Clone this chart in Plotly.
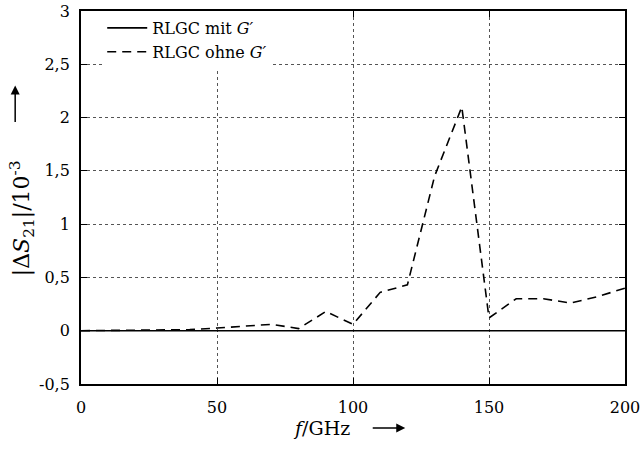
import plotly.graph_objects as go

freq = [0, 10, 20, 30, 40, 50, 60, 70, 80, 90, 100, 110, 120, 130, 140, 150, 160, 170, 180, 190, 200]
mit_g = [0.0] * len(freq)
ohne_g = [0.0, 0.003, 0.005, 0.007, 0.01, 0.025, 0.04, 0.06, 0.02, 0.18, 0.06, 0.36, 0.43, 1.45, 2.1, 0.12, 0.30, 0.30, 0.26, 0.32, 0.40]
y_ticks = [-0.5, 0, 0.5, 1, 1.5, 2, 2.5, 3]
y_ticklabels = ["-0,5", "0", "0,5", "1", "1,5", "2", "2,5", "3"]
x_ticks = [0, 50, 100, 150, 200]

FONT = "DejaVu Serif"

fig = go.Figure()
fig.add_trace(go.Scatter(x=freq, y=mit_g, mode="lines", name="RLGC mit <i>G′</i>",
                         line=dict(color="black", width=1.6)))
fig.add_trace(go.Scatter(x=freq, y=ohne_g, mode="lines", name="RLGC ohne <i>G′</i>",
                         line=dict(color="black", width=1.6, dash="9px,6px")))

axis_common = dict(showline=True, linecolor="black", linewidth=1.8, mirror="ticks",
                   ticks="inside", ticklen=6, tickcolor="black", tickwidth=1,
                   showgrid=True, gridcolor="#555", griddash="dot", gridwidth=1,
                   zeroline=False, automargin=False,
                   tickfont=dict(family=FONT, size=16, color="black"))

fig.update_xaxes(range=[0, 200], tickvals=x_ticks, ticklabelstandoff=8, **axis_common)
fig.update_yaxes(range=[-0.5, 3], tickvals=y_ticks, ticktext=y_ticklabels, ticklabelstandoff=6, **axis_common)

fig.update_layout(
    width=644, height=452,
    margin=dict(l=81, r=19, t=11, b=68),
    plot_bgcolor="white", paper_bgcolor="white",
    font=dict(family=FONT, size=16, color="black"),
    showlegend=True,
    legend=dict(x=0.039, y=1.0, xanchor="left", yanchor="top",
                bgcolor="white", borderwidth=0, font=dict(family=FONT, size=16),
                tracegroupgap=0, itemwidth=40),
    annotations=[
        dict(text="|Δ<i>S</i><sub>21</sub>|/10<sup>-3</sup>", xref="paper", yref="paper",
             x=-0.108, y=0.445, textangle=-90, showarrow=False,
             font=dict(family=FONT, size=22), xanchor="center", yanchor="middle"),
        dict(text="", xref="paper", yref="paper", x=-0.121, y=0.80,
             ax=0, ay=38, showarrow=True, arrowhead=2, arrowsize=1.2, arrowwidth=1.5,
             arrowcolor="black"),
        dict(text="<i>f</i>/GHz", xref="paper", yref="paper", x=0.443, y=-0.118,
             showarrow=False, font=dict(family=FONT, size=19),
             xanchor="center", yanchor="middle"),
        dict(text="", xref="paper", yref="paper", x=0.596, y=-0.118,
             ax=-34, ay=0, showarrow=True, arrowhead=2, arrowsize=1.2, arrowwidth=1.5,
             arrowcolor="black"),
    ],
)

fig.write_html("out.html")
